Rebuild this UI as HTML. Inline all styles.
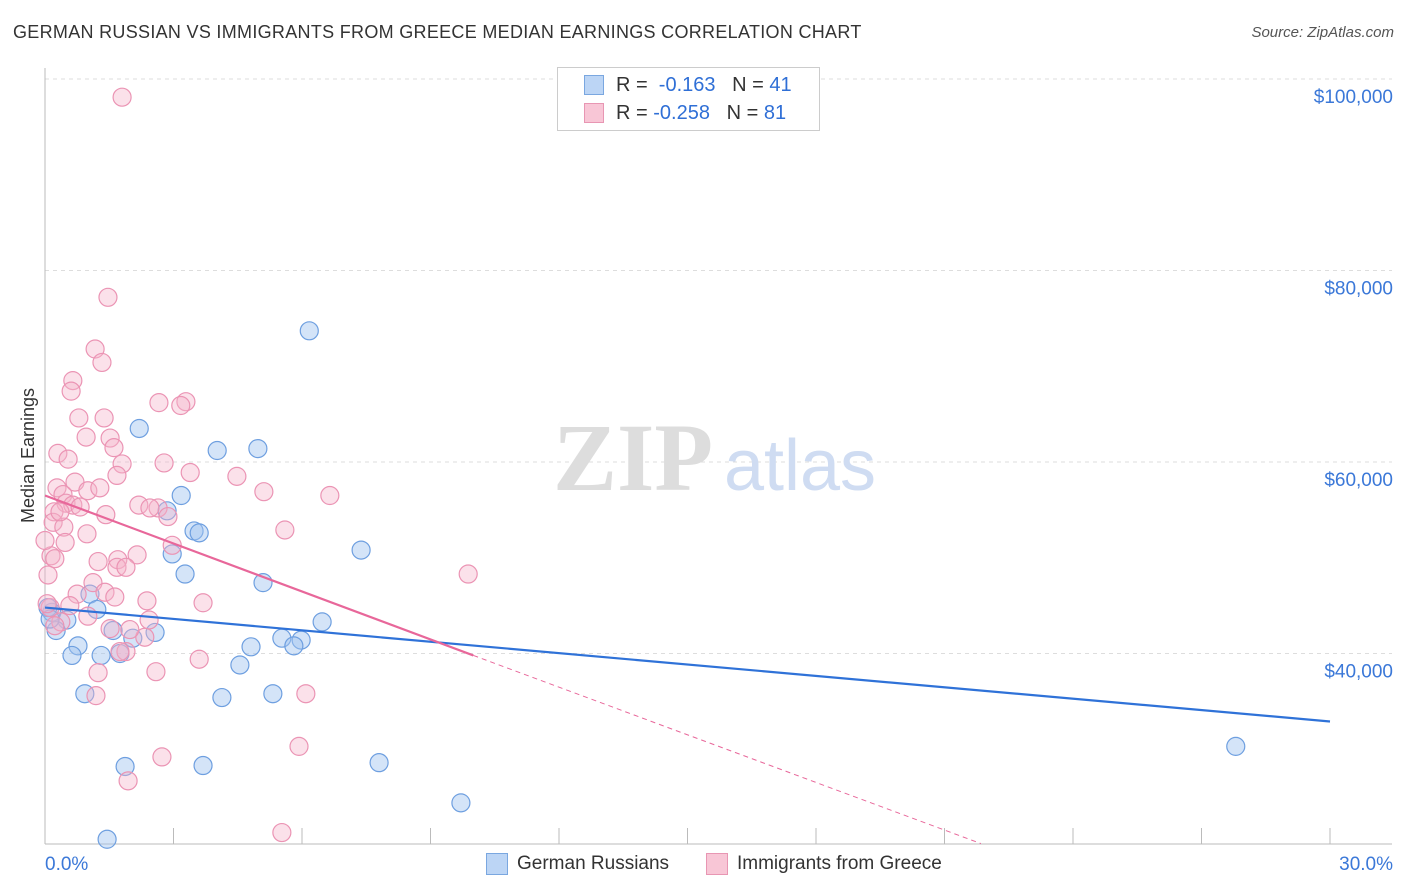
<!DOCTYPE html>
<html><head><meta charset="utf-8">
<style>
body{margin:0;background:#fff;font-family:"Liberation Sans",sans-serif;}
#wrap{position:relative;width:1406px;height:892px;overflow:hidden;}
.t{position:absolute;white-space:nowrap;}
</style></head><body>
<div id="wrap">
<div class="t" style="left:13px;top:22px;font-size:18px;color:#333;letter-spacing:0.3px;">GERMAN RUSSIAN VS IMMIGRANTS FROM GREECE MEDIAN EARNINGS CORRELATION CHART</div>
<div class="t" style="right:12px;top:24px;font-size:15px;color:#555;font-style:italic;">Source: ZipAtlas.com</div>
<div class="t" style="left:-39px;top:445px;font-size:18px;color:#333;transform:rotate(-90deg);">Median Earnings</div>
<svg id="svg" width="1406" height="892" style="position:absolute;left:0;top:0"></svg>
<div style="position:absolute;left:557px;top:67px;width:261px;height:62px;border:1px solid #ccc;background:#fff;font-size:20px;color:#333;">
 <div style="position:absolute;left:26px;top:7px;width:18px;height:18px;background:#bcd5f5;border:1px solid #7aa7e0;"></div>
 <div class="t" style="left:58px;top:6px;">R = &nbsp;<span style="color:#2f6fd6">-0.163</span> &nbsp;&nbsp;N = <span style="color:#2f6fd6">41</span></div>
 <div style="position:absolute;left:26px;top:35px;width:18px;height:18px;background:#f8c6d6;border:1px solid #e896b3;"></div>
 <div class="t" style="left:58px;top:34px;">R = <span style="color:#2f6fd6">-0.258</span> &nbsp;&nbsp;N = <span style="color:#2f6fd6">81</span></div>
</div>
<div>
 <div style="position:absolute;left:486px;top:853px;width:20px;height:20px;background:#bcd5f5;border:1px solid #7aa7e0;"></div>
 <div class="t" style="left:517px;top:853px;font-size:19px;color:#333;">German Russians</div>
 <div style="position:absolute;left:706px;top:853px;width:20px;height:20px;background:#f8c6d6;border:1px solid #e896b3;"></div>
 <div class="t" style="left:737px;top:853px;font-size:19px;color:#333;">Immigrants from Greece</div>
</div>
</div>
<script>
const yTicks=[100000,80000,60000,40000];
const yTickLabels=["$100,000","$80,000","$60,000","$40,000"];
const xTicks=[0,3,6,9,12,15,18,21,24,27,30];
const blueX=[6.17,2.2,4.02,4.97,3.18,2.85,3.48,3.6,2.97,7.38,3.27,5.09,1.05,1.21,0.16,0.51,6.47,0.26,1.59,2.57,0.77,2.05,5.53,5.98,5.81,4.81,0.63,1.31,1.75,4.55,0.93,4.13,5.32,1.87,3.69,7.8,9.71,1.45,27.8,0.07,0.12];
const blueY=[73700,63500,61200,61400,56500,54900,52800,52600,50400,50800,48300,47400,46200,44600,44300,43500,43300,42400,42400,42200,40800,41600,41600,41400,40800,40700,39800,39800,40000,38800,35800,35400,35800,28200,28300,28600,24400,20600,30300,44800,43600];
const pinkX=[1.8,1.47,1.17,1.33,0.65,0.61,3.29,2.66,3.17,1.38,0.79,1.52,0.96,0.30,0.54,1.61,1.8,2.78,3.39,1.68,4.48,0.7,1.0,0.28,5.11,0.42,6.65,0.49,0.65,0.82,0.21,2.19,2.64,2.87,1.42,0.19,0.44,0.98,5.6,2.97,0.14,0.23,2.15,1.7,1.24,1.68,1.89,0.07,1.12,9.88,0.75,1.4,1.63,2.38,3.69,1.0,2.43,0.37,2.33,1.89,3.6,1.24,2.59,1.19,6.09,5.93,2.73,1.94,5.53,0.12,0.23,0.05,0.58,1.98,0.47,1.28,2.45,0.0,0.35,1.52,1.75];
const pinkY=[98100,77200,71800,70400,68500,67400,66300,66200,65900,64600,64600,62500,62600,60900,60300,61500,59800,59900,58900,58600,58500,57900,57000,57300,56900,56600,56500,55700,55500,55300,54800,55500,55200,54300,54500,53700,53200,52500,52900,51300,50200,49900,50300,49800,49600,49000,49000,48200,47400,48300,46200,46400,45900,45500,45300,43900,43500,43300,41700,40200,39400,38000,38100,35600,35800,30300,29200,26700,21300,44800,42900,45200,45000,42500,51600,57300,55200,51800,54800,42600,40200];
const NS="http://www.w3.org/2000/svg";
const svg=document.getElementById('svg');
const X=v=>45+v/30*1285;
const Y=v=>79+(100000-v)/20000*191.5;
function mk(tag,attrs){const e=document.createElementNS(NS,tag);for(const k in attrs)e.setAttribute(k,attrs[k]);svg.appendChild(e);return e;}
yTicks.forEach((v,i)=>{
 const g=mk('line',{x1:45,x2:1392,y1:Y(v),y2:Y(v),stroke:'#ddd','stroke-dasharray':'4,4'});
 
 
 const t=mk('text',{x:1393,y:Y(v)+24,'text-anchor':'end','font-size':19,fill:'#3b78d8','font-family':'Liberation Sans'});
 t.textContent=yTickLabels[i];
 
 
});
const ax=mk('line',{x1:45,x2:1392,y1:844,y2:844,stroke:'#bbb'});


const ay=mk('line',{x1:45,x2:45,y1:68,y2:844,stroke:'#bbb'});


xTicks.forEach(v=>{
 const l=mk('line',{x1:X(v),x2:X(v),y1:828,y2:844,stroke:'#bbb'});
 
 
});
[[0,"0.0%","start",45],[30,"30.0%","end",1393]].forEach(a=>{
 const t=mk('text',{x:a[3],y:870,'text-anchor':a[2],'font-size':19,fill:'#3b78d8','font-family':'Liberation Sans'});
 t.textContent=a[1];
 
 
});
const wm1=mk('text',{x:633,y:490,'text-anchor':'middle','font-size':96,fill:'#ddd','font-family':'Liberation Serif','font-weight':'bold'});
wm1.textContent='ZIP';


const wm2=mk('text',{x:800,y:490,'text-anchor':'middle','font-size':72,fill:'#cfdcf2','font-family':'Liberation Sans'});
wm2.textContent='atlas';


blueX.forEach((v,i)=>{
 const c=mk('circle',{cx:X(v),cy:Y(blueY[i]),r:9,fill:'rgba(160,195,240,0.45)',stroke:'#6e9fe0','stroke-width':1.2});
 
 
});
pinkX.forEach((v,i)=>{
 const c=mk('circle',{cx:X(v),cy:Y(pinkY[i]),r:9,fill:'rgba(245,180,202,0.4)',stroke:'#eb94b4','stroke-width':1.2});
 
 
});
const bl=mk('line',{x1:X(0),y1:Y(44800),x2:X(30),y2:Y(32900),stroke:'#2f72d8','stroke-width':2.2});


const pl=mk('line',{x1:X(0),y1:Y(56500),x2:X(10),y2:Y(39800),stroke:'#e8679a','stroke-width':2.2});


const pd=mk('line',{x1:X(10),y1:Y(39800),x2:X(21.85),y2:Y(20150),stroke:'#e8679a','stroke-width':1,'stroke-dasharray':'5,4'});


</script>
</body></html>
